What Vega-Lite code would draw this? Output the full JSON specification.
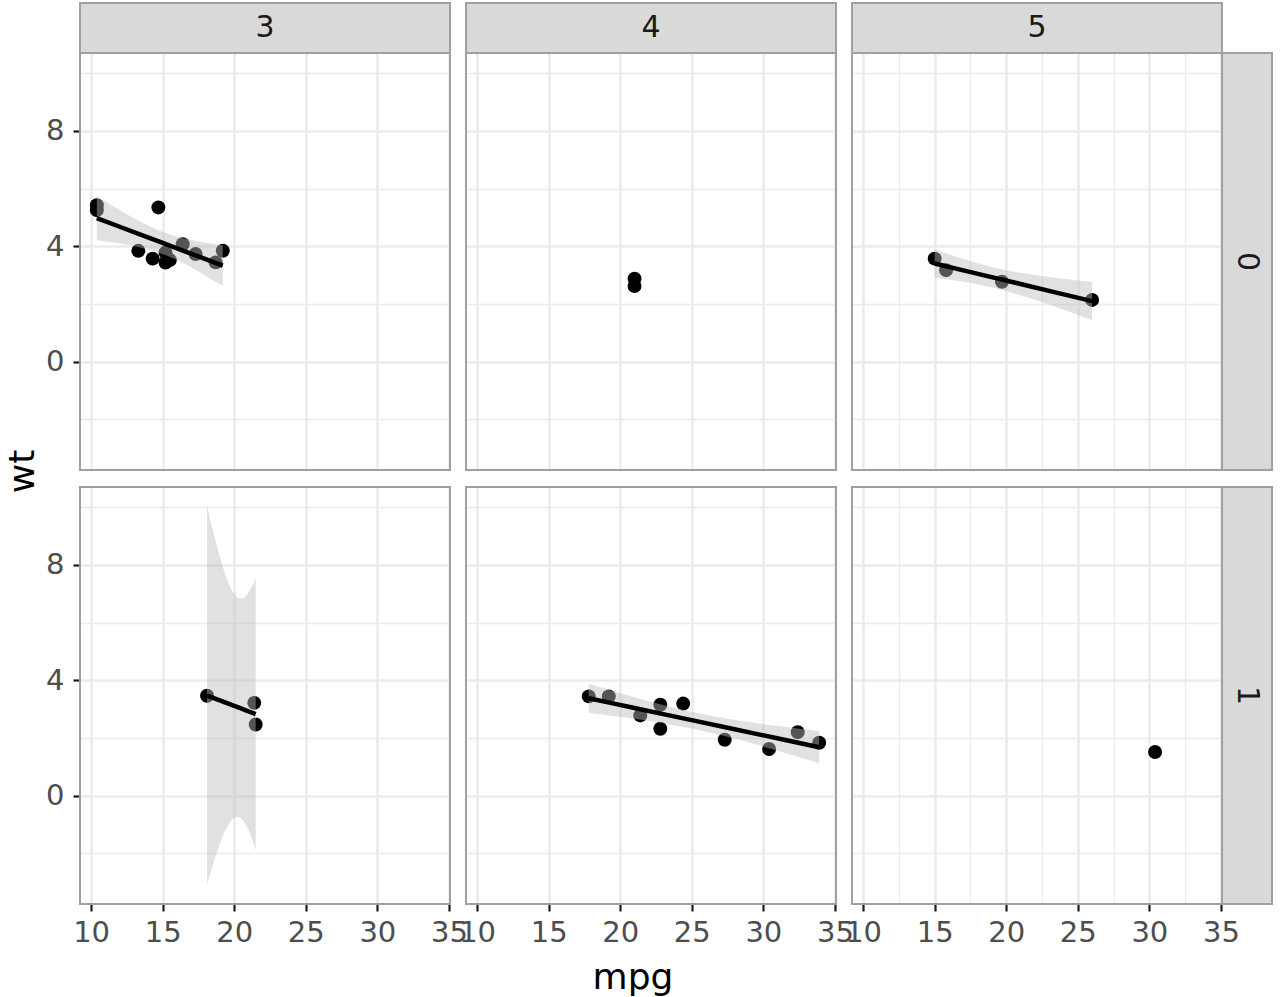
{
"$schema":"https://vega.github.io/schema/vega-lite/v6.json",
"background":"white",
"padding":{"left":4,"top":2,"right":2,"bottom":2},
"datasets":{
"cars":[
{"mpg":18.7,"wt":3.44,"gear":3,"vs":0},{"mpg":14.3,"wt":3.57,"gear":3,"vs":0},{"mpg":16.4,"wt":4.07,"gear":3,"vs":0},{"mpg":17.3,"wt":3.73,"gear":3,"vs":0},{"mpg":15.2,"wt":3.78,"gear":3,"vs":0},{"mpg":10.4,"wt":5.25,"gear":3,"vs":0},{"mpg":10.4,"wt":5.424,"gear":3,"vs":0},{"mpg":14.7,"wt":5.345,"gear":3,"vs":0},{"mpg":15.5,"wt":3.52,"gear":3,"vs":0},{"mpg":15.2,"wt":3.435,"gear":3,"vs":0},{"mpg":13.3,"wt":3.84,"gear":3,"vs":0},{"mpg":19.2,"wt":3.845,"gear":3,"vs":0},
{"mpg":21.4,"wt":3.215,"gear":3,"vs":1},{"mpg":18.1,"wt":3.46,"gear":3,"vs":1},{"mpg":21.5,"wt":2.465,"gear":3,"vs":1},
{"mpg":21.0,"wt":2.62,"gear":4,"vs":0},{"mpg":21.0,"wt":2.875,"gear":4,"vs":0},
{"mpg":22.8,"wt":2.32,"gear":4,"vs":1},{"mpg":24.4,"wt":3.19,"gear":4,"vs":1},{"mpg":22.8,"wt":3.15,"gear":4,"vs":1},{"mpg":19.2,"wt":3.44,"gear":4,"vs":1},{"mpg":17.8,"wt":3.44,"gear":4,"vs":1},{"mpg":32.4,"wt":2.2,"gear":4,"vs":1},{"mpg":30.4,"wt":1.615,"gear":4,"vs":1},{"mpg":33.9,"wt":1.835,"gear":4,"vs":1},{"mpg":27.3,"wt":1.935,"gear":4,"vs":1},{"mpg":21.4,"wt":2.78,"gear":4,"vs":1},
{"mpg":26.0,"wt":2.14,"gear":5,"vs":0},{"mpg":15.8,"wt":3.17,"gear":5,"vs":0},{"mpg":19.7,"wt":2.77,"gear":5,"vs":0},{"mpg":15.0,"wt":3.57,"gear":5,"vs":0},
{"mpg":30.4,"wt":1.513,"gear":5,"vs":1}
],
"band":[
{"gear":3,"vs":0,"mpg":10.4,"lo":4.203,"fit":4.974,"hi":5.744},
{"gear":3,"vs":0,"mpg":12.0,"lo":4.093,"fit":4.675,"hi":5.256},
{"gear":3,"vs":0,"mpg":13.5,"lo":3.951,"fit":4.394,"hi":4.836},
{"gear":3,"vs":0,"mpg":15.05,"lo":3.722,"fit":4.104,"hi":4.486},
{"gear":3,"vs":0,"mpg":16.5,"lo":3.397,"fit":3.833,"hi":4.268},
{"gear":3,"vs":0,"mpg":18.0,"lo":2.981,"fit":3.552,"hi":4.124},
{"gear":3,"vs":0,"mpg":19.2,"lo":2.619,"fit":3.328,"hi":4.037},
{"gear":3,"vs":1,"mpg":18.1,"lo":-3.098,"fit":3.471,"hi":10.040},
{"gear":3,"vs":1,"mpg":18.4,"lo":-2.581,"fit":3.414,"hi":9.409},
{"gear":3,"vs":1,"mpg":18.7,"lo":-2.099,"fit":3.357,"hi":8.813},
{"gear":3,"vs":1,"mpg":19.0,"lo":-1.664,"fit":3.300,"hi":8.264},
{"gear":3,"vs":1,"mpg":19.3,"lo":-1.290,"fit":3.243,"hi":7.776},
{"gear":3,"vs":1,"mpg":19.6,"lo":-0.996,"fit":3.186,"hi":7.368},
{"gear":3,"vs":1,"mpg":19.9,"lo":-0.804,"fit":3.129,"hi":7.062},
{"gear":3,"vs":1,"mpg":20.1,"lo":-0.743,"fit":3.091,"hi":6.925},
{"gear":3,"vs":1,"mpg":20.33,"lo":-0.747,"fit":3.047,"hi":6.840},
{"gear":3,"vs":1,"mpg":20.6,"lo":-0.851,"fit":2.996,"hi":6.843},
{"gear":3,"vs":1,"mpg":20.9,"lo":-1.091,"fit":2.939,"hi":6.969},
{"gear":3,"vs":1,"mpg":21.2,"lo":-1.444,"fit":2.882,"hi":7.209},
{"gear":3,"vs":1,"mpg":21.5,"lo":-1.891,"fit":2.825,"hi":7.541},
{"gear":4,"vs":1,"mpg":17.8,"lo":2.872,"fit":3.374,"hi":3.876},
{"gear":4,"vs":1,"mpg":19.4,"lo":2.773,"fit":3.206,"hi":3.639},
{"gear":4,"vs":1,"mpg":21.0,"lo":2.665,"fit":3.037,"hi":3.409},
{"gear":4,"vs":1,"mpg":23.0,"lo":2.512,"fit":2.826,"hi":3.141},
{"gear":4,"vs":1,"mpg":25.24,"lo":2.301,"fit":2.591,"hi":2.880},
{"gear":4,"vs":1,"mpg":27.5,"lo":2.037,"fit":2.352,"hi":2.668},
{"gear":4,"vs":1,"mpg":29.5,"lo":1.769,"fit":2.142,"hi":2.515},
{"gear":4,"vs":1,"mpg":31.7,"lo":1.451,"fit":1.910,"hi":2.369},
{"gear":4,"vs":1,"mpg":33.9,"lo":1.120,"fit":1.678,"hi":2.236},
{"gear":5,"vs":0,"mpg":15.0,"lo":2.912,"fit":3.401,"hi":3.890},
{"gear":5,"vs":0,"mpg":17.0,"lo":2.769,"fit":3.164,"hi":3.559},
{"gear":5,"vs":0,"mpg":19.125,"lo":2.558,"fit":2.913,"hi":3.267},
{"gear":5,"vs":0,"mpg":21.0,"lo":2.304,"fit":2.690,"hi":3.077},
{"gear":5,"vs":0,"mpg":23.5,"lo":1.891,"fit":2.394,"hi":2.898},
{"gear":5,"vs":0,"mpg":26.0,"lo":1.435,"fit":2.098,"hi":2.762}
]
},
"columns":3,
"align":"each",
"bounds":"flush",
"spacing":{"row":17,"column":16},
"concat":[
{"width":370,"height":467,"layer":[
 {"data":{"name":"cars"},"transform":[{"filter":"datum.gear==3 && datum.vs==0"}],"mark":{"type":"circle","size":195,"color":"black","opacity":1},
  "encoding":{"x":{"field":"mpg","type":"quantitative","scale":{"domain":[9.225,35.075],"nice":false,"zero":false},"axis":{"values":[10,12.5,15,17.5,20,22.5,25,27.5,30,32.5,35],"grid":true,"gridWidth":{"condition":{"test":"datum.value % 5 === 0","value":2.5},"value":1.3},"labels":false,"ticks":false,"title":null}},
   "y":{"field":"wt","type":"quantitative","scale":{"domain":[-3.755,12.429],"nice":false,"zero":false},"axis":{"values":[-2,0,2,4,6,8,10],"grid":true,"gridWidth":{"condition":{"test":"datum.value % 4 === 0","value":2.5},"value":1.3},"labelExpr":"datum.value % 4 === 0 ? format(datum.value,'d') : ''","labelPadding":9,"labelOverlap":false,"labelFlush":false,"tickOpacity":{"condition":{"test":"datum.value % 4 === 0","value":1},"value":0},"title":"wt","titleY":468}}}},
 {"data":{"name":"band"},"transform":[{"filter":"datum.gear==3 && datum.vs==0"}],"mark":{"type":"area","color":"#bdbdbd","opacity":0.45,"interpolate":"monotone"},
  "encoding":{"x":{"field":"mpg","type":"quantitative","scale":{"domain":[9.225,35.075],"nice":false,"zero":false}},"y":{"field":"lo","type":"quantitative","scale":{"domain":[-3.755,12.429],"nice":false,"zero":false}},"y2":{"field":"hi"}}},
 {"data":{"name":"band"},"transform":[{"filter":"datum.gear==3 && datum.vs==0"}],"mark":{"type":"line","color":"black","strokeWidth":4.5},
  "encoding":{"x":{"field":"mpg","type":"quantitative","scale":{"domain":[9.225,35.075],"nice":false,"zero":false}},"y":{"field":"fit","type":"quantitative","scale":{"domain":[-3.755,12.429],"nice":false,"zero":false}}}},
 {"data":{"values":[{}]},"mark":{"type":"rect","fill":"transparent","stroke":"#a0a0a0","strokeWidth":2},
  "encoding":{"x":{"datum":9.225,"type":"quantitative","scale":{"domain":[9.225,35.075],"nice":false,"zero":false}},"x2":{"datum":35.075},"y":{"datum":-3.755,"type":"quantitative","scale":{"domain":[-3.755,12.429],"nice":false,"zero":false}},"y2":{"datum":10.696}}},
 {"data":{"values":[{}]},"mark":{"type":"rect","fill":"#d9d9d9","stroke":"#a0a0a0","strokeWidth":2},
  "encoding":{"x":{"datum":9.225,"type":"quantitative","scale":{"domain":[9.225,35.075],"nice":false,"zero":false}},"x2":{"datum":35.075},"y":{"datum":10.696,"type":"quantitative","scale":{"domain":[-3.755,12.429],"nice":false,"zero":false}},"y2":{"datum":12.429}}},
 {"data":{"values":[{}]},"mark":{"type":"text","fontSize":30,"color":"#1a1a1a","font":"DejaVu Sans"},
  "encoding":{"x":{"datum":22.15,"type":"quantitative","scale":{"domain":[9.225,35.075],"nice":false,"zero":false}},"y":{"datum":11.5625,"type":"quantitative","scale":{"domain":[-3.755,12.429],"nice":false,"zero":false}},"text":{"value":"3"}}}
]},
{"width":370,"height":467,"layer":[
 {"data":{"name":"cars"},"transform":[{"filter":"datum.gear==4 && datum.vs==0"}],"mark":{"type":"circle","size":195,"color":"black","opacity":1},
  "encoding":{"x":{"field":"mpg","type":"quantitative","scale":{"domain":[9.225,35.075],"nice":false,"zero":false},"axis":{"values":[10,12.5,15,17.5,20,22.5,25,27.5,30,32.5,35],"grid":true,"gridWidth":{"condition":{"test":"datum.value % 5 === 0","value":2.5},"value":1.3},"labels":false,"ticks":false,"title":null}},
   "y":{"field":"wt","type":"quantitative","scale":{"domain":[-3.755,12.429],"nice":false,"zero":false},"axis":{"values":[-2,0,2,4,6,8,10],"grid":true,"gridWidth":{"condition":{"test":"datum.value % 4 === 0","value":2.5},"value":1.3},"labels":false,"ticks":false,"title":null}}}},
 {"data":{"values":[{}]},"mark":{"type":"rect","fill":"transparent","stroke":"#a0a0a0","strokeWidth":2},
  "encoding":{"x":{"datum":9.225,"type":"quantitative","scale":{"domain":[9.225,35.075],"nice":false,"zero":false}},"x2":{"datum":35.075},"y":{"datum":-3.755,"type":"quantitative","scale":{"domain":[-3.755,12.429],"nice":false,"zero":false}},"y2":{"datum":10.696}}},
 {"data":{"values":[{}]},"mark":{"type":"rect","fill":"#d9d9d9","stroke":"#a0a0a0","strokeWidth":2},
  "encoding":{"x":{"datum":9.225,"type":"quantitative","scale":{"domain":[9.225,35.075],"nice":false,"zero":false}},"x2":{"datum":35.075},"y":{"datum":10.696,"type":"quantitative","scale":{"domain":[-3.755,12.429],"nice":false,"zero":false}},"y2":{"datum":12.429}}},
 {"data":{"values":[{}]},"mark":{"type":"text","fontSize":30,"color":"#1a1a1a","font":"DejaVu Sans"},
  "encoding":{"x":{"datum":22.15,"type":"quantitative","scale":{"domain":[9.225,35.075],"nice":false,"zero":false}},"y":{"datum":11.5625,"type":"quantitative","scale":{"domain":[-3.755,12.429],"nice":false,"zero":false}},"text":{"value":"4"}}}
]},
{"width":420,"height":467,"layer":[
 {"data":{"name":"cars"},"transform":[{"filter":"datum.gear==5 && datum.vs==0"}],"mark":{"type":"circle","size":195,"color":"black","opacity":1},
  "encoding":{"x":{"field":"mpg","type":"quantitative","scale":{"domain":[9.225,38.568],"nice":false,"zero":false},"axis":{"values":[10,12.5,15,17.5,20,22.5,25,27.5,30,32.5,35],"grid":true,"gridWidth":{"condition":{"test":"datum.value % 5 === 0","value":2.5},"value":1.3},"labels":false,"ticks":false,"title":null}},
   "y":{"field":"wt","type":"quantitative","scale":{"domain":[-3.755,12.429],"nice":false,"zero":false},"axis":{"values":[-2,0,2,4,6,8,10],"grid":true,"gridWidth":{"condition":{"test":"datum.value % 4 === 0","value":2.5},"value":1.3},"labels":false,"ticks":false,"title":null}}}},
 {"data":{"name":"band"},"transform":[{"filter":"datum.gear==5 && datum.vs==0"}],"mark":{"type":"area","color":"#bdbdbd","opacity":0.45,"interpolate":"monotone"},
  "encoding":{"x":{"field":"mpg","type":"quantitative","scale":{"domain":[9.225,38.568],"nice":false,"zero":false}},"y":{"field":"lo","type":"quantitative","scale":{"domain":[-3.755,12.429],"nice":false,"zero":false}},"y2":{"field":"hi"}}},
 {"data":{"name":"band"},"transform":[{"filter":"datum.gear==5 && datum.vs==0"}],"mark":{"type":"line","color":"black","strokeWidth":4.5},
  "encoding":{"x":{"field":"mpg","type":"quantitative","scale":{"domain":[9.225,38.568],"nice":false,"zero":false}},"y":{"field":"fit","type":"quantitative","scale":{"domain":[-3.755,12.429],"nice":false,"zero":false}}}},
 {"data":{"values":[{}]},"mark":{"type":"rect","fill":"transparent","stroke":"#a0a0a0","strokeWidth":2},
  "encoding":{"x":{"datum":9.225,"type":"quantitative","scale":{"domain":[9.225,38.568],"nice":false,"zero":false}},"x2":{"datum":35.075},"y":{"datum":-3.755,"type":"quantitative","scale":{"domain":[-3.755,12.429],"nice":false,"zero":false}},"y2":{"datum":10.696}}},
 {"data":{"values":[{}]},"mark":{"type":"rect","fill":"#d9d9d9","stroke":"#a0a0a0","strokeWidth":2},
  "encoding":{"x":{"datum":9.225,"type":"quantitative","scale":{"domain":[9.225,38.568],"nice":false,"zero":false}},"x2":{"datum":35.075},"y":{"datum":10.696,"type":"quantitative","scale":{"domain":[-3.755,12.429],"nice":false,"zero":false}},"y2":{"datum":12.429}}},
 {"data":{"values":[{}]},"mark":{"type":"text","fontSize":30,"color":"#1a1a1a","font":"DejaVu Sans"},
  "encoding":{"x":{"datum":22.15,"type":"quantitative","scale":{"domain":[9.225,38.568],"nice":false,"zero":false}},"y":{"datum":11.5625,"type":"quantitative","scale":{"domain":[-3.755,12.429],"nice":false,"zero":false}},"text":{"value":"5"}}},
 {"data":{"values":[{}]},"mark":{"type":"rect","fill":"#d9d9d9","stroke":"#a0a0a0","strokeWidth":2},
  "encoding":{"x":{"datum":35.075,"type":"quantitative","scale":{"domain":[9.225,38.568],"nice":false,"zero":false}},"x2":{"datum":38.568},"y":{"datum":-3.755,"type":"quantitative","scale":{"domain":[-3.755,12.429],"nice":false,"zero":false}},"y2":{"datum":10.696}}},
 {"data":{"values":[{}]},"mark":{"type":"text","fontSize":30,"color":"#1a1a1a","font":"DejaVu Sans","angle":90},
  "encoding":{"x":{"datum":36.82,"type":"quantitative","scale":{"domain":[9.225,38.568],"nice":false,"zero":false}},"y":{"datum":3.47,"type":"quantitative","scale":{"domain":[-3.755,12.429],"nice":false,"zero":false}},"text":{"value":"0"}}}
]},
{"width":370,"height":417,"layer":[
 {"data":{"name":"cars"},"transform":[{"filter":"datum.gear==3 && datum.vs==1"}],"mark":{"type":"circle","size":195,"color":"black","opacity":1},
  "encoding":{"x":{"field":"mpg","type":"quantitative","scale":{"domain":[9.225,35.075],"nice":false,"zero":false},"axis":{"values":[10,12.5,15,17.5,20,22.5,25,27.5,30,32.5,35],"grid":true,"gridWidth":{"condition":{"test":"datum.value % 5 === 0","value":2.5},"value":1.3},"labelExpr":"datum.value % 5 === 0 ? format(datum.value,'d') : ''","labelPadding":7,"labelOverlap":false,"labelFlush":false,"tickOpacity":{"condition":{"test":"datum.value % 5 === 0","value":1},"value":0},"title":null}},
   "y":{"field":"wt","type":"quantitative","scale":{"domain":[-3.755,10.696],"nice":false,"zero":false},"axis":{"values":[-2,0,2,4,6,8,10],"grid":true,"gridWidth":{"condition":{"test":"datum.value % 4 === 0","value":2.5},"value":1.3},"labelExpr":"datum.value % 4 === 0 ? format(datum.value,'d') : ''","labelPadding":9,"labelOverlap":false,"labelFlush":false,"tickOpacity":{"condition":{"test":"datum.value % 4 === 0","value":1},"value":0},"title":null}}}},
 {"data":{"name":"band"},"transform":[{"filter":"datum.gear==3 && datum.vs==1"}],"mark":{"type":"area","color":"#bdbdbd","opacity":0.45,"interpolate":"monotone"},
  "encoding":{"x":{"field":"mpg","type":"quantitative","scale":{"domain":[9.225,35.075],"nice":false,"zero":false}},"y":{"field":"lo","type":"quantitative","scale":{"domain":[-3.755,10.696],"nice":false,"zero":false}},"y2":{"field":"hi"}}},
 {"data":{"name":"band"},"transform":[{"filter":"datum.gear==3 && datum.vs==1"}],"mark":{"type":"line","color":"black","strokeWidth":4.5},
  "encoding":{"x":{"field":"mpg","type":"quantitative","scale":{"domain":[9.225,35.075],"nice":false,"zero":false}},"y":{"field":"fit","type":"quantitative","scale":{"domain":[-3.755,10.696],"nice":false,"zero":false}}}},
 {"data":{"values":[{}]},"mark":{"type":"rect","fill":"transparent","stroke":"#a0a0a0","strokeWidth":2},
  "encoding":{"x":{"datum":9.225,"type":"quantitative","scale":{"domain":[9.225,35.075],"nice":false,"zero":false}},"x2":{"datum":35.075},"y":{"datum":-3.755,"type":"quantitative","scale":{"domain":[-3.755,10.696],"nice":false,"zero":false}},"y2":{"datum":10.696}}}
]},
{"width":370,"height":417,"layer":[
 {"data":{"name":"cars"},"transform":[{"filter":"datum.gear==4 && datum.vs==1"}],"mark":{"type":"circle","size":195,"color":"black","opacity":1},
  "encoding":{"x":{"field":"mpg","type":"quantitative","scale":{"domain":[9.225,35.075],"nice":false,"zero":false},"axis":{"values":[10,12.5,15,17.5,20,22.5,25,27.5,30,32.5,35],"grid":true,"gridWidth":{"condition":{"test":"datum.value % 5 === 0","value":2.5},"value":1.3},"labelExpr":"datum.value % 5 === 0 ? format(datum.value,'d') : ''","labelPadding":7,"labelOverlap":false,"labelFlush":false,"tickOpacity":{"condition":{"test":"datum.value % 5 === 0","value":1},"value":0},"title":"mpg","titleX":166.5,"titlePadding":13}},
   "y":{"field":"wt","type":"quantitative","scale":{"domain":[-3.755,10.696],"nice":false,"zero":false},"axis":{"values":[-2,0,2,4,6,8,10],"grid":true,"gridWidth":{"condition":{"test":"datum.value % 4 === 0","value":2.5},"value":1.3},"labels":false,"ticks":false,"title":null}}}},
 {"data":{"name":"band"},"transform":[{"filter":"datum.gear==4 && datum.vs==1"}],"mark":{"type":"area","color":"#bdbdbd","opacity":0.45,"interpolate":"monotone"},
  "encoding":{"x":{"field":"mpg","type":"quantitative","scale":{"domain":[9.225,35.075],"nice":false,"zero":false}},"y":{"field":"lo","type":"quantitative","scale":{"domain":[-3.755,10.696],"nice":false,"zero":false}},"y2":{"field":"hi"}}},
 {"data":{"name":"band"},"transform":[{"filter":"datum.gear==4 && datum.vs==1"}],"mark":{"type":"line","color":"black","strokeWidth":4.5},
  "encoding":{"x":{"field":"mpg","type":"quantitative","scale":{"domain":[9.225,35.075],"nice":false,"zero":false}},"y":{"field":"fit","type":"quantitative","scale":{"domain":[-3.755,10.696],"nice":false,"zero":false}}}},
 {"data":{"values":[{}]},"mark":{"type":"rect","fill":"transparent","stroke":"#a0a0a0","strokeWidth":2},
  "encoding":{"x":{"datum":9.225,"type":"quantitative","scale":{"domain":[9.225,35.075],"nice":false,"zero":false}},"x2":{"datum":35.075},"y":{"datum":-3.755,"type":"quantitative","scale":{"domain":[-3.755,10.696],"nice":false,"zero":false}},"y2":{"datum":10.696}}}
]},
{"width":420,"height":417,"layer":[
 {"data":{"name":"cars"},"transform":[{"filter":"datum.gear==5 && datum.vs==1"}],"mark":{"type":"circle","size":195,"color":"black","opacity":1},
  "encoding":{"x":{"field":"mpg","type":"quantitative","scale":{"domain":[9.225,38.568],"nice":false,"zero":false},"axis":{"values":[10,12.5,15,17.5,20,22.5,25,27.5,30,32.5,35],"grid":true,"gridWidth":{"condition":{"test":"datum.value % 5 === 0","value":2.5},"value":1.3},"labelExpr":"datum.value % 5 === 0 ? format(datum.value,'d') : ''","labelPadding":7,"labelOverlap":false,"labelFlush":false,"tickOpacity":{"condition":{"test":"datum.value % 5 === 0","value":1},"value":0},"title":null}},
   "y":{"field":"wt","type":"quantitative","scale":{"domain":[-3.755,10.696],"nice":false,"zero":false},"axis":{"values":[-2,0,2,4,6,8,10],"grid":true,"gridWidth":{"condition":{"test":"datum.value % 4 === 0","value":2.5},"value":1.3},"labels":false,"ticks":false,"title":null}}}},
 {"data":{"values":[{}]},"mark":{"type":"rect","fill":"transparent","stroke":"#a0a0a0","strokeWidth":2},
  "encoding":{"x":{"datum":9.225,"type":"quantitative","scale":{"domain":[9.225,38.568],"nice":false,"zero":false}},"x2":{"datum":35.075},"y":{"datum":-3.755,"type":"quantitative","scale":{"domain":[-3.755,10.696],"nice":false,"zero":false}},"y2":{"datum":10.696}}},
 {"data":{"values":[{}]},"mark":{"type":"rect","fill":"#d9d9d9","stroke":"#a0a0a0","strokeWidth":2},
  "encoding":{"x":{"datum":35.075,"type":"quantitative","scale":{"domain":[9.225,38.568],"nice":false,"zero":false}},"x2":{"datum":38.568},"y":{"datum":-3.755,"type":"quantitative","scale":{"domain":[-3.755,10.696],"nice":false,"zero":false}},"y2":{"datum":10.696}}},
 {"data":{"values":[{}]},"mark":{"type":"text","fontSize":30,"color":"#1a1a1a","font":"DejaVu Sans","angle":90},
  "encoding":{"x":{"datum":36.82,"type":"quantitative","scale":{"domain":[9.225,38.568],"nice":false,"zero":false}},"y":{"datum":3.47,"type":"quantitative","scale":{"domain":[-3.755,10.696],"nice":false,"zero":false}},"text":{"value":"1"}}}
]}
],
"config":{
 "view":{"stroke":null},
 "font":"DejaVu Sans",
 "axis":{"domain":false,"gridColor":"#ebebeb","labelColor":"#4d4d4d","labelFontSize":29,"labelFont":"DejaVu Sans","tickColor":"#1a1a1a","tickWidth":2.2,"tickSize":7,"titleFont":"DejaVu Sans","titleFontSize":36,"titleFontWeight":"normal","titleColor":"#000000"}
}
}
